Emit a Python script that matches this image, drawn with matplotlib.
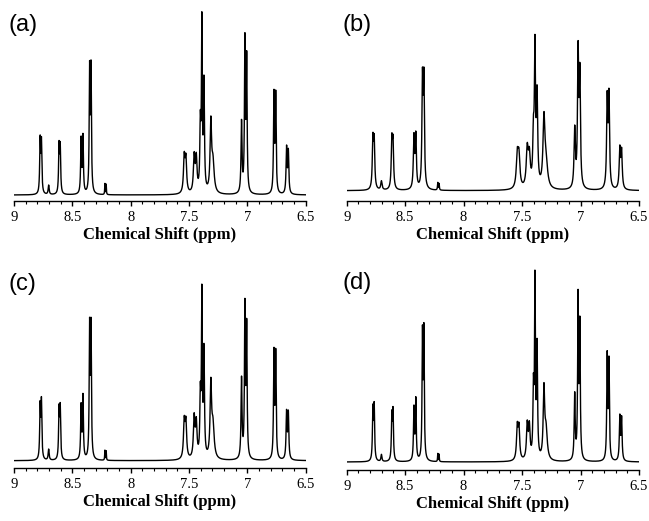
import numpy as np
import matplotlib.pyplot as plt
from matplotlib.ticker import MultipleLocator

# line positions (ppm), shared by all four panels
shifts = np.array([8.776, 8.765, 8.703, 8.614, 8.604, 8.425, 8.409, 8.352, 8.340,
                   8.221, 8.210, 7.541, 7.527, 7.456, 7.438, 7.403, 7.390, 7.372,
                   7.313, 7.295, 7.050, 7.021, 7.006, 6.772, 6.757, 6.664, 6.649])
# half widths at half height (ppm)
widths = np.array([0.0045, 0.0045, 0.005, 0.0045, 0.0045, 0.0045, 0.0045, 0.0042, 0.0042,
                   0.0022, 0.0022, 0.0075, 0.0075, 0.0075, 0.0075, 0.005, 0.0042, 0.005,
                   0.0075, 0.012, 0.005, 0.0045, 0.0045, 0.0045, 0.0045, 0.005, 0.005])

# apparent peak heights (arbitrary units) for each sample
heights_a = [180, 175, 30, 163, 160, 177, 185, 403, 405, 35, 33, 130, 125, 130, 128,
             255, 550, 360, 237, 123, 227, 487, 433, 317, 315, 150, 140]
heights_b = [174, 170, 30, 172, 168, 174, 179, 370, 370, 25, 22, 130, 128, 144, 132,
             227, 469, 317, 237, 122, 197, 450, 384, 300, 307, 137, 130]
heights_c = [180, 192, 35, 170, 174, 174, 202, 430, 430, 32, 30, 135, 133, 144, 132,
             237, 530, 352, 250, 132, 254, 487, 427, 340, 337, 154, 152]
heights_d = [174, 181, 23, 156, 166, 171, 196, 411, 418, 26, 24, 121, 119, 126, 124,
             266, 576, 371, 238, 121, 211, 518, 438, 334, 318, 144, 139]

labels = ['(a)', '(b)', '(c)', '(d)']
line_broadening = [1.0, 1.3, 1.0, 1.0]

W, H = 649, 521
# pixel layout: x of 9 ppm, x of 6.5 ppm, axis line y, top y, ylim
layout = [(14, 305.7, 201, 5, (-18, 570)),
          (346.7, 639, 201, 5, (-31, 557)),
          (14, 305.7, 467.7, 265, (-21, 587)),
          (346.7, 639, 470, 265, (-24, 591))]
label_pos = [(8, 25), (342, 25), (8, 284), (342, 283)]

ppm = np.linspace(9.0, 6.5, 8000)


def lorentz(x, x0, w):
    return 1.0 / (1.0 + ((x - x0) / w) ** 2)


fig = plt.figure(figsize=(W / 100, H / 100), dpi=100)

for k, heights in enumerate([heights_a, heights_b, heights_c, heights_d]):
    w = widths * line_broadening[k]
    # amplitudes so that the summed lines reach the read peak heights
    M = lorentz(shifts[:, None], shifts[None, :], w[None, :])
    amps = np.linalg.solve(M, np.array(heights, dtype=float))
    spec = (amps[None, :] * lorentz(ppm[:, None], shifts[None, :], w[None, :])).sum(axis=1)

    x0, x1, ys, yt, ylim = layout[k]
    ax = fig.add_axes([x0 / W, 1 - ys / H, (x1 - x0) / W, (ys - yt) / H])
    ax.plot(ppm, spec, color='black', lw=1.0)
    ax.set_xlim(9.0, 6.5)
    ax.set_ylim(*ylim)
    for s in ['top', 'right', 'left']:
        ax.spines[s].set_visible(False)
    ax.spines['bottom'].set_linewidth(1.0)
    ax.set_yticks([])
    ax.xaxis.set_major_locator(MultipleLocator(0.5))
    ax.xaxis.set_minor_locator(MultipleLocator(0.1))
    ax.set_xticks([9, 8.5, 8, 7.5, 7, 6.5])
    ax.set_xticklabels(['9', '8.5', '8', '7.5', '7', '6.5'],
                       family='Liberation Serif', fontsize=10.5)
    ax.tick_params(axis='x', which='major', length=3.5, width=1.0, pad=4)
    ax.tick_params(axis='x', which='minor', length=2.2, width=0.8)
    ax.set_xlabel('Chemical Shift (ppm)', family='Liberation Serif',
                  fontweight='bold', fontsize=12, labelpad=2)
    lx, ly = label_pos[k]
    fig.text(lx / W, 1 - ly / H, labels[k], family='Liberation Sans',
             fontsize=17, ha='left', va='center')

fig.savefig('out.png', dpi=100)
